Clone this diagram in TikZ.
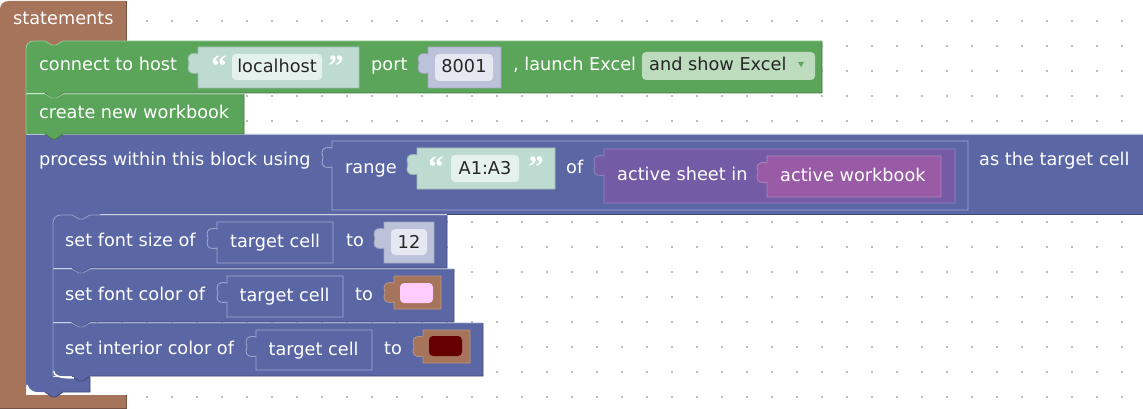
\documentclass[tikz,border=0pt]{standalone}
\usepackage{fontspec}
\setmainfont{DejaVu Sans}
\newfontfamily\quotefont{Liberation Serif}
\definecolor{brownblk}{HTML}{A5745B}
\definecolor{greenblk}{HTML}{5BA55B}
\definecolor{blueblk}{HTML}{5B67A5}
\definecolor{purpleblk}{HTML}{745BA5}
\definecolor{pinkblk}{HTML}{995BA5}
\definecolor{textshadow}{HTML}{BEDBD1}
\definecolor{textfield}{HTML}{E5F1ED}
\definecolor{numshadow}{HTML}{BDC2DB}
\definecolor{numfield}{HTML}{E5E7F1}
\definecolor{dropfield}{HTML}{BDDBBD}
\definecolor{griddot}{HTML}{BBBBBB}
\definecolor{slotline}{HTML}{A3AAD2}
\definecolor{swatchpink}{HTML}{FFCCFF}
\definecolor{swatchdark}{HTML}{660000}
\tikzset{
  lbl/.style={anchor=base west,inner sep=0,text=white,font=\fontsize{17.7}{20}\selectfont},
  fieldlbl/.style={anchor=base,inner sep=0,text=black!85,font=\fontsize{17.7}{20}\selectfont},
  quotemark/.style={anchor=base,inner sep=0,text=white,font=\quotefont\bfseries\fontsize{31}{31}\selectfont},
}
% block with a notch on top and a tab below: colour, x1, y1, x2, y2, corner
\newcommand{\stackblock}[6]{
  \fill[#1] ({#2},{#3+#6}) .. controls ({#2},{#3+#6*.4}) and ({#2+#6*.4},{#3}) .. ({#2+#6},{#3})
    -- ({#2+19},#3) -- ({#2+26},{#3+4}) -- ({#2+30},{#3+4}) -- ({#2+37},#3) -- (#4,#3) -- (#4,#5)
    -- ({#2+37},#5) -- ({#2+30},{#5+5}) -- ({#2+26},{#5+5}) -- ({#2+19},#5) -- (#2,#5) -- cycle;
  \draw[#1!70!black,line width=.8] (#4,#3) -- (#4,#5) -- ({#2+37},#5) -- ({#2+30},{#5+5}) -- ({#2+26},{#5+5}) -- ({#2+19},#5);
}
% light top and left edge of such a block: colour, x1, y1, x2, y2, corner
\newcommand{\stackedge}[6]{
  \draw[#1!62!white,line width=.8] (#2,#5) -- ({#2},{#3+#6}) .. controls ({#2},{#3+#6*.4}) and ({#2+#6*.4},{#3}) .. ({#2+#6},{#3})
    -- ({#2+19},#3) -- ({#2+26},{#3+4}) -- ({#2+30},{#3+4}) -- ({#2+37},#3) -- (#4,#3);
}
% value block with a puzzle tab on the left: fill, line, x1, y1, x2, y2
\newcommand{\valueblock}[6]{
  \filldraw[fill=#1,draw=#2,line width=.8] (#3,#4) -- (#5,#4) -- (#5,#6) -- (#3,#6) -- (#3,{#4+26})
    .. controls ({#3-4},{#4+27}) and ({#3-10},{#4+27}) .. ({#3-10},{#4+21})
    .. controls ({#3-10},{#4+19}) and ({#3-9},{#4+19}) .. ({#3-9},{#4+16.5})
    .. controls ({#3-9},{#4+14}) and ({#3-10},{#4+14}) .. ({#3-10},{#4+12})
    .. controls ({#3-10},{#4+6}) and ({#3-4},{#4+6}) .. (#3,{#4+7}) -- cycle;
}
% rounded editable field with its text: name, fill, x1, y1, x2, y2, baseline, text
\newcommand{\fieldbox}[8]{
  \fill[#2,rounded corners=4] (#3,#4) rectangle (#5,#6);
  \node[fieldlbl] (#1) at ({(#3+#5)/2},#7) {#8};
}
\begin{document}
\begin{tikzpicture}[x=1pt,y=-1pt]
  \useasboundingbox (0,0) rectangle (1143,409);
  % workspace dots
  \foreach \gx in {0,...,45}
    \foreach \gy in {0,...,15}
      \fill[griddot] ({21.5+25*\gx-1},{21.5+25*\gy-1}) rectangle +(2,2);
  % statements
  \fill[brownblk] (0,408) -- (0,9) .. controls (0,4) and (4,1) .. (9,1) -- (126,1) -- (126,41)
    -- (70,41) -- (70,47) -- (26,47) -- (26,395) -- (126,395) -- (126,408) -- cycle;
  \draw[brownblk!70!black,line width=.8] (126,1) -- (126,41);
  \draw[brownblk!70!black,line width=.8] (126,395) -- (126,408) -- (0,408);
  \node[lbl] (statements) at (13,25) {statements};
  % process block
  \fill[blueblk] (26,134) -- (1143,134) -- (1143,214) -- (100,214) -- (100,222) -- (53,222) -- (53,377) -- (90,377) -- (90,392)
    -- (63,392) -- (56,397) -- (52,397) -- (45,392) -- (35,392) .. controls (30,392) and (26,388) .. (26,383) -- cycle;
  \draw[blueblk!70!black,line width=.8] (1143,214.5) -- (447,214.5);
  \draw[blueblk!70!black,line width=.8] (90,377) -- (90,392) -- (63,392) -- (56,397) -- (52,397) -- (45,392);
  \draw[numshadow,line width=.8] (26,134.5) -- (1143,134.5);
  \draw[white,line width=1.5] (27,385) .. controls (28,391) and (34,393.5) .. (44,393.5);
  \node[lbl] (process) at (39,165) {process within this block using};
  \valueblock{blueblk}{slotline}{332}{141}{968}{210}
  \node[lbl] (range) at (345,173) {range};
  \valueblock{textshadow}{textshadow!85!black}{417}{148}{555}{189}
  \node[quotemark] (rangeopen) at (436,178) {“};
  \fieldbox{rangefield}{textfield}{451}{155}{519}{182}{174}{A1:A3}
  \node[quotemark] (rangeclose) at (536,178) {”};
  \node[lbl] (rangeof) at (566,173) {of};
  \valueblock{purpleblk}{purpleblk!75!white}{604}{149}{955}{203}
  \node[lbl] (activesheet) at (617,180) {active sheet in};
  \valueblock{pinkblk}{pinkblk!75!white}{767}{156}{941}{197}
  \node[lbl] (activebook) at (780,181) {active workbook};
  \node[lbl] (astarget) at (979,165) {as the target cell};
  % set interior color
  \stackblock{blueblk}{53}{323}{483}{376}{0}
  \draw[white,line width=1.5] (53.5,371) .. controls (54,376) and (60,378) .. (74,378);
  \node[lbl] (interiorlbl) at (65,354) {set interior color of};
  \valueblock{blueblk}{slotline}{256}{330}{372}{370}
  \node[lbl] (interiorcell) at (268.5,355.5) {target cell};
  \node[lbl] (interiorto) at (384,354) {to};
  \valueblock{brownblk}{brownblk!75!white}{423}{330}{470}{363}
  \fill[swatchdark,rounded corners=4] (429,336) rectangle (462,356);
  % set font color
  \stackblock{blueblk}{53}{269}{454}{322}{0}
  \node[lbl] (colorlbl) at (65,300) {set font color of};
  \valueblock{blueblk}{slotline}{227}{276}{343}{317}
  \node[lbl] (colorcell) at (239.5,301.5) {target cell};
  \node[lbl] (colorto) at (355,300) {to};
  \valueblock{brownblk}{brownblk!75!white}{394}{276}{441}{309}
  \fill[swatchpink,rounded corners=4] (400,283) rectangle (433,303);
  % set font size
  \stackblock{blueblk}{53}{215}{447}{268}{8}
  \node[lbl] (sizelbl) at (65,246) {set font size of};
  \valueblock{blueblk}{slotline}{217}{222}{333}{263}
  \node[lbl] (sizecell) at (230,247.5) {target cell};
  \node[lbl] (sizeto) at (346,246) {to};
  \valueblock{numshadow}{numshadow!85!black}{384}{222}{434}{263}
  \fieldbox{sizefield}{numfield}{391}{229}{427}{255}{248}{12}
  % create new workbook
  \stackblock{greenblk}{26}{94}{244}{134}{0}
  \node[lbl] (createbook) at (39,118.5) {create new workbook};
  % connect to host
  \stackblock{greenblk}{26}{41}{822}{93}{8}
  \node[lbl] (connect) at (39,71) {connect to host};
  \valueblock{textshadow}{textshadow!85!black}{198}{47}{359}{88}
  \node[quotemark] (hostopen) at (219,77) {“};
  \fieldbox{hostfield}{textfield}{232}{54}{322}{80}{73}{localhost}
  \node[quotemark] (hostclose) at (336,77) {”};
  \node[lbl] (port) at (371,71) {port};
  \valueblock{numshadow}{numshadow!85!black}{428}{47}{501}{88}
  \fieldbox{portfield}{numfield}{435}{54}{493}{81}{73}{8001}
  \node[lbl] (launch) at (513,71) {, launch Excel};
  \fill[dropfield,rounded corners=4] (642,52) rectangle (815,80);
  \node[fieldlbl,anchor=base west] (showexcel) at (649,71) {and show Excel};
  \fill[greenblk] (798,62) -- (804,62) -- (801,67) -- cycle;
  % light edges lie over the tabs of the blocks above
  \stackedge{blueblk}{53}{323}{483}{376}{0}
  \stackedge{blueblk}{53}{269}{454}{322}{0}
  \stackedge{blueblk}{53}{215}{447}{268}{8}
  \stackedge{greenblk}{26}{94}{244}{134}{0}
  \stackedge{greenblk}{26}{41}{822}{93}{8}
\end{tikzpicture}
\end{document}
